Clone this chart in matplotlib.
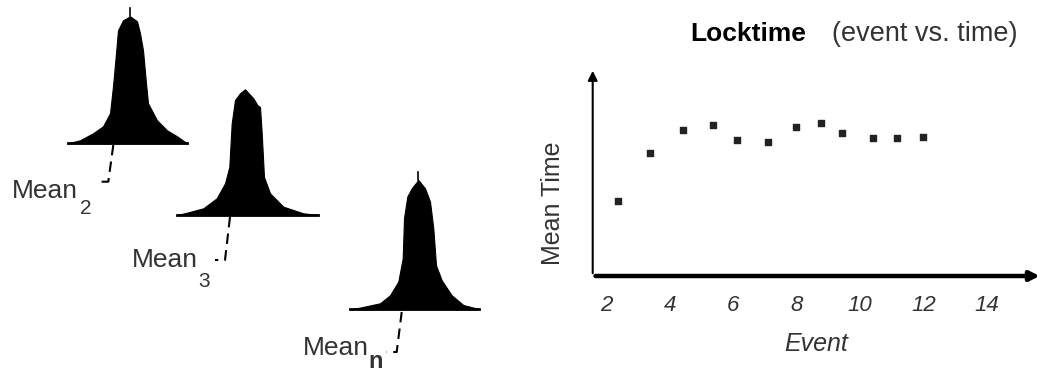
import matplotlib
matplotlib.use("Agg")
import matplotlib.pyplot as plt
import numpy as np

# ---------------- data ----------------
# Right chart: Locktime (event vs. time)
event = [2.38, 3.38, 4.43, 5.37, 6.13, 7.11, 7.98, 8.76, 9.42, 10.42, 11.16, 11.98]
mean_time = [3.6, 5.9, 7.02, 7.25, 6.54, 6.46, 7.18, 7.37, 6.86, 6.62, 6.62, 6.70]
x_ticks = [2, 4, 6, 8, 10, 12, 14]
x_ticklabels = ["2", "4", "6", "8", "10", "12", "14"]

# Left illustration: three peaked distributions (offset from peak, height)
dist1_offsets = [-62, -50, -37, -27, -20, -17, -14, -12, -7, 0, 7, 10, 13, 16, 18, 27, 37, 47, 57]
dist1_heights = [0, 3, 10, 17, 30, 57, 90, 113, 123, 127, 122, 110, 93, 60, 40, 23, 13, 7, 0]
dist2_offsets = [-68, -58, -41.7, -28.3, -20, -15.7, -13.3, -10, -5, 0, 8.3, 12.3, 15, 16.7, 19, 25, 38.3, 58.3, 73]
dist2_heights = [0, 2.3, 6.7, 16.7, 31.7, 48, 91.7, 115, 121.7, 125.7, 116.7, 110, 108, 81.7, 38, 21.7, 8.3, 1.7, 0]
dist3_offsets = [-68.3, -58.3, -38.3, -28.3, -20, -15.6, -14.3, -11, -6.6, 0, 6.7, 11.7, 15, 17.7, 23.4, 33.4, 45, 61.7]
dist3_heights = [0, 1.7, 6, 14, 27.7, 51, 91, 112.7, 121, 129.3, 121, 107.7, 81, 44, 29, 14, 4.3, 0]
dist_labels = ["Mean", "Mean", "Mean"]
dist_subs = ["2", "3", "n"]

FONT = "Liberation Sans"
TXT = "#333333"

fig = plt.figure(figsize=(10.4, 3.9), dpi=100)

# Full-figure canvas in pixel coordinates for the illustration
canvas = fig.add_axes([0, 0, 1, 1])
canvas.set_xlim(0, 1040)
canvas.set_ylim(390, 0)
canvas.axis("off")

layout = [
    dict(c=130, b=143.3, l=68, r=187, spike=8,
         leader=[(113.3, 145), (108.3, 181.7), (96.7, 181.7)],
         lab=(11.7, 198), sub=(80, 208), ss=15, sb="normal"),
    dict(c=245, b=215, l=177, r=318, spike=None,
         leader=[(230, 217), (225, 260), (215, 260)],
         lab=(131.7, 266.7), sub=(198, 281.7), ss=15, sb="normal"),
    dict(c=418.3, b=309.3, l=350, r=479, spike=171.7,
         leader=[(401.7, 312), (396.7, 352), (386.7, 352)],
         lab=(303.3, 355), sub=(368, 361.7), ss=17, sb="bold"),
]
dists = [(dist1_offsets, dist1_heights), (dist2_offsets, dist2_heights), (dist3_offsets, dist3_heights)]

for (offs, hts), L, lab, sub in zip(dists, layout, dist_labels, dist_subs):
    xs = np.array(offs) + L["c"]
    ys = L["b"] - np.array(hts)
    canvas.fill_between(xs, L["b"], ys, color="black", lw=0.8, edgecolor="black")
    canvas.plot([L["l"], L["r"]], [L["b"], L["b"]], color="black", lw=2)
    if L["spike"] is not None:
        canvas.plot([L["c"], L["c"]], [L["b"] - max(hts), L["spike"]], color="black", lw=1.2)
    lx, ly = zip(*L["leader"])
    canvas.plot(lx, ly, color="black", lw=1.5, ls=(0, (5, 3)))
    canvas.text(L["lab"][0], L["lab"][1], lab, fontsize=19, family=FONT, color=TXT,
                ha="left", va="baseline")
    canvas.text(L["sub"][0], L["sub"][1], sub, fontsize=L["ss"], family=FONT, color=TXT,
                ha="left", va="center", fontweight=L["sb"])

# Right chart
ax = fig.add_axes([592.7 / 1040, (390 - 276) / 390, (1040 - 592.7) / 1040, (276 - 68) / 390])
ax.set_xlim(1.57, 15.67)
ax.set_ylim(0, 10)
for s in ax.spines.values():
    s.set_visible(False)
ax.scatter(event, mean_time, s=18, marker="s", color="#222222", zorder=3)
ax.set_xticks(x_ticks)
ax.set_xticklabels(x_ticklabels, fontsize=16, family=FONT, style="italic", color=TXT)
ax.tick_params(axis="x", length=0, pad=14)
ax.set_yticks([])
ax.annotate("", xy=(1.57, 10), xytext=(1.57, 0), xycoords="data",
            arrowprops=dict(arrowstyle="-|>", lw=1.5, color="black", mutation_scale=14),
            annotation_clip=False)
ax.annotate("", xy=(15.75, 0), xytext=(1.57, 0), xycoords="data",
            arrowprops=dict(arrowstyle="-|>", lw=3.2, color="black", mutation_scale=14),
            annotation_clip=False)
ax.set_xlabel("Event", fontsize=18, family=FONT, style="italic", color=TXT, labelpad=11)

fig.text(553 / 1040, 1 - 203 / 390, "Mean Time", rotation=90, fontsize=18, family=FONT,
         color=TXT, ha="center", va="center")
fig.text(690 / 1040, 1 - 34 / 390, "Locktime", fontsize=19, family=FONT, fontweight="bold",
         color="black", ha="left", va="center")
fig.text(832 / 1040, 1 - 34 / 390, "(event vs. time)", fontsize=19.5, family=FONT,
         color=TXT, ha="left", va="center")

fig.savefig("out.png", dpi=100)
